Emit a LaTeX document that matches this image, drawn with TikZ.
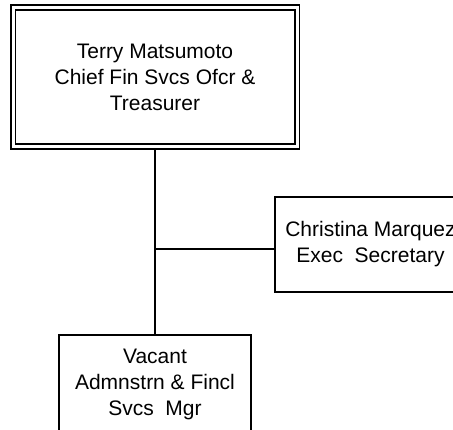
\documentclass[tikz,border=0pt]{standalone}
\usepackage{fontspec}
\setmainfont{Liberation Sans}
\usetikzlibrary{backgrounds}
\begin{document}
\begin{tikzpicture}[x=1pt,y=1pt,
  box/.style={draw=black, line width=1.8pt, fill=white, align=center, inner sep=0pt, font=\fontsize{21}{26}\selectfont},
  dbox/.style={box, double, double distance=3pt},
  link/.style={draw=black, line width=1.8pt}]
\clip (0,0) rectangle (453,430);
\node[dbox, minimum width=284pt, minimum height=139pt] (cfo) at (155,353) {Terry Matsumoto\\Chief Fin Svcs Ofcr \&\\Treasurer};
\node[box, minimum width=191pt, minimum height=95pt] (sec) at (370.5,185.5) {Christina Marquez\\Exec\ \ Secretary};
\node[box, minimum width=192pt, minimum height=99pt] (mgr) at (155,45.5) {Vacant\\Admnstrn \& Fincl\\Svcs\ \ Mgr};
\begin{scope}[on background layer]
\draw[link] (cfo.south) -- (mgr.north);
\coordinate (j) at (cfo.south |- 0,181);
\draw[link] (j) -- (j -| sec.west);
\end{scope}
\end{tikzpicture}
\end{document}
